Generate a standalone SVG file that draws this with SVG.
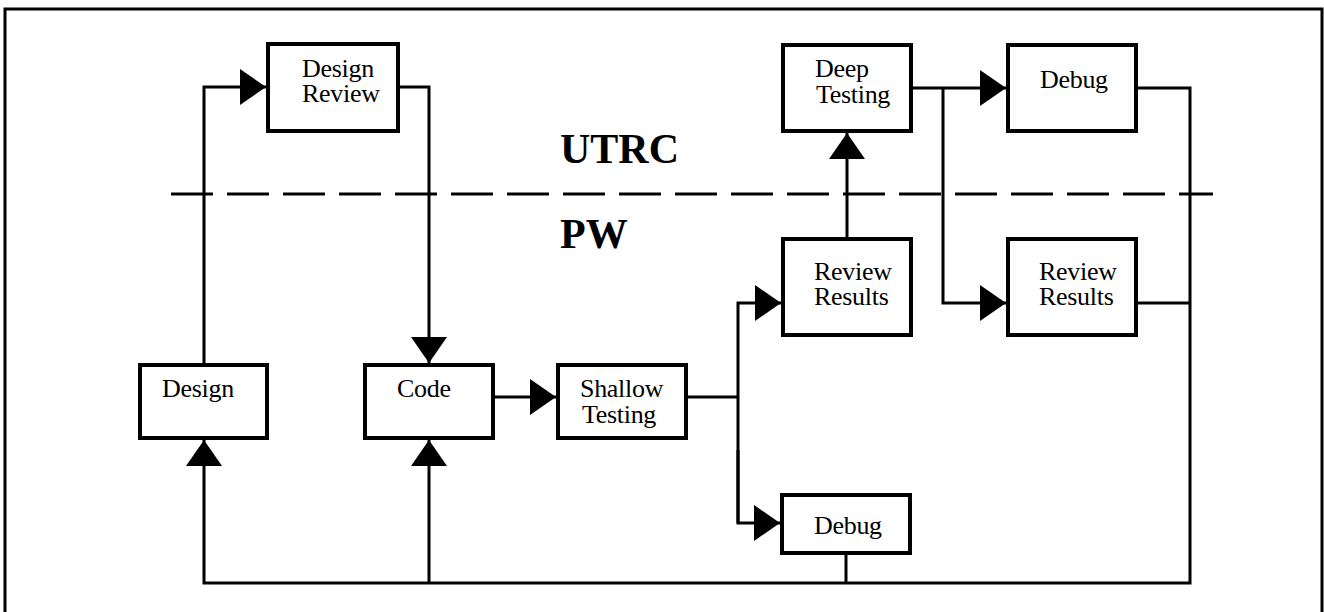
<svg xmlns="http://www.w3.org/2000/svg" width="1324" height="612" viewBox="0 0 1324 612">
<style>
.box{fill:#fff;stroke:#000;stroke-width:4}
.lbl{font-family:"Liberation Serif","Times New Roman",serif;font-size:26px;fill:#000;letter-spacing:-0.3px}
.big{font-family:"Liberation Serif","Times New Roman",serif;font-size:42px;font-weight:bold;fill:#000}
.con{fill:none;stroke:#000;stroke-width:3}
</style>
<defs>
<marker id="arr" viewBox="0 0 26 36" refX="26" refY="18" markerWidth="26" markerHeight="36" markerUnits="userSpaceOnUse" orient="auto">
<path d="M0,0 L26,18 L0,36 Z" fill="#000"/>
</marker>
</defs>
<rect width="1324" height="612" fill="#fff"/>
<path d="M5,620 V9 H1322 V620" fill="none" stroke="#000" stroke-width="3"/>
<line x1="171" y1="194" x2="1213" y2="194" stroke="#000" stroke-width="3" stroke-dasharray="42 14"/>
<text class="big" x="560" y="163">UTRC</text>
<text class="big" x="560" y="248">PW</text>
<g id="connectors">
<path class="con" d="M204,363 V87 H266" marker-end="url(#arr)"/>
<path class="con" d="M400,87 H429 V363" marker-end="url(#arr)"/>
<path class="con" d="M495,397 H556" marker-end="url(#arr)"/>
<path class="con" d="M688,397 H738"/>
<path class="con" d="M738,523 V303 H781" marker-end="url(#arr)"/>
<path class="con" d="M738,450 V523 H780" marker-end="url(#arr)"/>
<path class="con" d="M847,237 V133" marker-end="url(#arr)"/>
<path class="con" d="M913,88 H1006" marker-end="url(#arr)"/>
<path class="con" d="M943,88 V303 H1006" marker-end="url(#arr)"/>
<path class="con" d="M1138,303 H1190"/>
<path class="con" d="M846,555 V583"/>
<path class="con" d="M1138,88 H1190 V583 H204 V440" marker-end="url(#arr)"/>
<path class="con" d="M429,583 V440" marker-end="url(#arr)"/>
</g>
<g id="design-review"><rect class="box" x="268" y="44" width="130" height="87"/><text class="lbl" x="302" y="77">Design</text><text class="lbl" x="302" y="102">Review</text></g>
<g id="deep-testing"><rect class="box" x="783" y="45" width="128" height="86"/><text class="lbl" x="815" y="77">Deep</text><text class="lbl" x="816" y="103">Testing</text></g>
<g id="debug-top"><rect class="box" x="1008" y="45" width="128" height="86"/><text class="lbl" x="1040" y="88">Debug</text></g>
<g id="review-results-1"><rect class="box" x="783" y="239" width="128" height="96"/><text class="lbl" x="814" y="280">Review</text><text class="lbl" x="814" y="305">Results</text></g>
<g id="review-results-2"><rect class="box" x="1008" y="239" width="128" height="96"/><text class="lbl" x="1039" y="280">Review</text><text class="lbl" x="1039" y="305">Results</text></g>
<g id="design"><rect class="box" x="140" y="365" width="127" height="73"/><text class="lbl" x="162" y="397">Design</text></g>
<g id="code"><rect class="box" x="365" y="365" width="128" height="73"/><text class="lbl" x="397" y="397">Code</text></g>
<g id="shallow-testing"><rect class="box" x="558" y="365" width="128" height="73"/><text class="lbl" x="580" y="397">Shallow</text><text class="lbl" x="582" y="423">Testing</text></g>
<g id="debug-bottom"><rect class="box" x="782" y="495" width="128" height="58"/><text class="lbl" x="814" y="534">Debug</text></g>
</svg>
